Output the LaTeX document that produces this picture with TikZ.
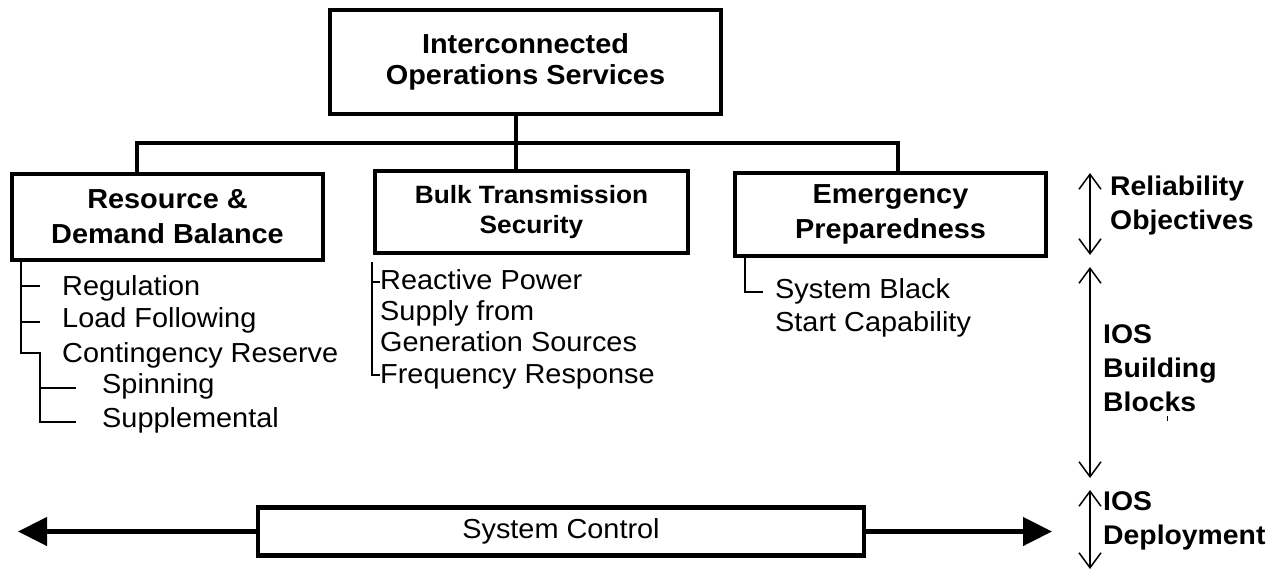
\documentclass[tikz,border=0pt]{standalone}
\usepackage{fontspec}
\setmainfont{Liberation Sans}[FakeStretch=1.05]
\usetikzlibrary{arrows.meta}
\newcommand\mlines[1]{\begin{tabular}[t]{@{}l@{}}#1\end{tabular}}
\begin{document}
\begin{tikzpicture}[x=1pt,y=-1pt,
  box/.style={draw, line width=4.5pt, inner sep=0pt, outer sep=0pt, align=center,
    font=\fontsize{27.5}{35}\selectfont\bfseries},
  bus/.style={line width=4.5pt, line join=miter},
  tree/.style={line width=1.5pt},
  item/.style={anchor=base west, inner sep=0pt, font=\fontsize{27.5}{33}\selectfont},
  lvl/.style={anchor=base west, inner sep=0pt, font=\fontsize{27}{34}\selectfont\bfseries},
  span/.style={line width=1.5pt, {Straight Barb[length=15pt,width=22pt]}-{Straight Barb[length=15pt,width=22pt]}},
  bigarrow/.style={line width=4.5pt, -{Triangle[length=29pt,width=28pt]}}]
\useasboundingbox (0,0) rectangle (1284,570);

% boxes
\node[box, minimum width=391pt, minimum height=104pt, font=\fontsize{27.5}{31}\selectfont\bfseries] (top) at (525.5,62) {Interconnected\\Operations Services};
\node[box, minimum width=311pt, minimum height=86pt] (res) at (167.5,217) {Resource \&\\Demand Balance};
\node[box, minimum width=313pt, minimum height=82pt, font=\fontsize{25}{30}\selectfont\bfseries] (bulk) at (531.5,212) {Bulk Transmission\\Security};
\node[box, minimum width=311pt, minimum height=83pt] (emer) at (890.5,214.5) {Emergency\\Preparedness};
\node[box, minimum width=606pt, minimum height=48pt, font=\fontsize{27.5}{33}\selectfont] (sys) at (561,531.5) {System Control};

% bus
\coordinate (busL) at (137,143);
\coordinate (busC) at (516,143);
\coordinate (busR) at (898,143);
\draw[bus] (res.north -| busL) -- (busL) -- (busR) -- (emer.north -| busR);
\draw[bus] (top.south -| busC) -- (bulk.north -| busC);

% resource list
\coordinate (r0) at (21,260);
\coordinate (r1) at (40,353);
\coordinate (r2) at (76,422);
\draw[tree] (r0 |- res.south) |- (r1) |- (r2);
\draw[tree] (21,286) -- (40,286);
\draw[tree] (21,322) -- (40,322);
\draw[tree] (40,388) -- (76,388);
\node[item] (reg) at (62,295) {Regulation};
\node[item] (load) at (62,327) {Load Following};
\node[item] (cont) at (62,362) {Contingency Reserve};
\node[item] (spin) at (102,393) {Spinning};
\node[item] (supp) at (102,427) {Supplemental};

% bulk list
\coordinate (b0) at (372,262);
\coordinate (b1) at (380,375);
\draw[tree] (b0) |- (b1);
\draw[tree] (372,282) -- (380,282);
\node[item, font=\fontsize{27.5}{31}\selectfont] (react) at (380,289) {\mlines{Reactive Power\\Supply from\\Generation Sources}};
\node[item] (freq) at (380,383) {Frequency Response};

% emergency list
\coordinate (e0) at (745,256);
\coordinate (e1) at (763,292);
\draw[tree] (e0 |- emer.south) |- (e1);
\node[item] (black) at (775,298) {\mlines{System Black\\Start Capability}};

% right side spans
\coordinate (s1a) at (1090,173);
\coordinate (s1b) at (1090,255);
\coordinate (s2a) at (1090,267);
\coordinate (s2b) at (1090,478);
\coordinate (s3a) at (1090,490);
\coordinate (s3b) at (1090,569);
\draw[span] (s1a) -- (s1b);
\draw[span] (s2a) -- (s2b);
\draw[span] (s3a) -- (s3b);
\node[lvl] (rel) at (1110,195) {\mlines{Reliability\\Objectives}};
\node[lvl] (blk) at (1103,343) {\mlines{IOS\\Building\\Blocks}};
\node[lvl] (dep) at (1103,510) {\mlines{IOS\\Deployment}};
\draw[line width=1pt] (1167,416) -- (1167,421);

% system control arrows
\coordinate (la) at (18,531.5);
\coordinate (ra) at (1052,531.5);
\draw[bigarrow] (sys.west) -- (la);
\draw[bigarrow] (sys.east) -- (ra);
\end{tikzpicture}
\end{document}
